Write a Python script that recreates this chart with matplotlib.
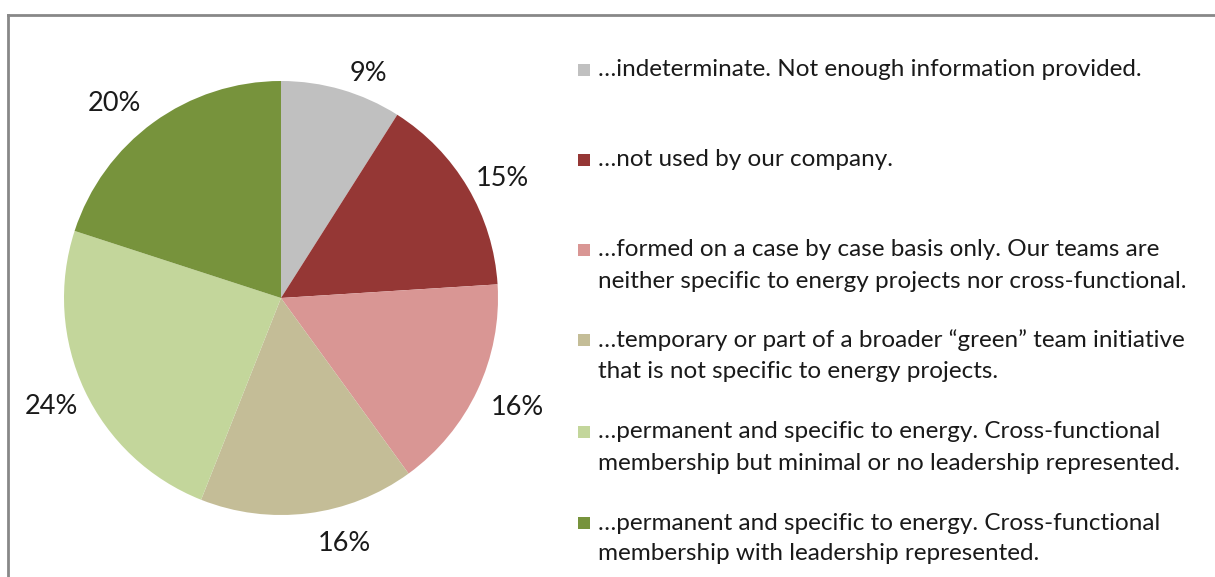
import matplotlib
matplotlib.use("Agg")
import matplotlib.pyplot as plt
from matplotlib.patches import Rectangle
from matplotlib.lines import Line2D
import numpy as np

categories = [
    "\u2026indeterminate. Not enough information provided.",
    "\u2026not used by our company.",
    "\u2026formed on a case by case basis only. Our teams are\nneither specific to energy projects nor cross-functional.",
    "\u2026temporary or part of a broader \u201cgreen\u201d team initiative\nthat is not specific to energy projects.",
    "\u2026permanent and specific to energy. Cross-functional\nmembership but minimal or no leadership represented.",
    "\u2026permanent and specific to energy. Cross-functional\nmembership with leadership represented.",
]
values = [9, 15, 16, 16, 24, 20]
pct_labels = ["9%", "15%", "16%", "16%", "24%", "20%"]
colors = ["#C0C0C0", "#953735", "#D99694", "#C4BD97", "#C3D69B", "#77933C"]

plt.rcParams['font.family'] = ['Lato', 'DejaVu Sans']

W, H = 1215, 577
fig = plt.figure(figsize=(W / 100, H / 100), dpi=100)

# pie axes: center (281,298), radius 217
cx, cy, r = 281, 298, 217
ax = fig.add_axes([(cx - r) / W, 1 - (cy + r) / H, 2 * r / W, 2 * r / H])
wedges, _ = ax.pie(values, colors=colors, startangle=90, counterclock=False,
                   radius=1.0, wedgeprops=dict(linewidth=0))
ax.set_xlim(-1, 1)
ax.set_ylim(-1, 1)
ax.set_aspect('auto')
ax.axis('off')

# percent labels outside (Excel-style "outside end" placement offsets)
angle_shift = [5.1, 2.2, -0.4, -7.2, -0.2, -4.6]   # degrees, clockwise
dists = [1.108, 1.161, 1.198, 1.166, 1.171, 1.183]
for w, lab, s, d in zip(wedges, pct_labels, angle_shift, dists):
    ang = np.deg2rad((w.theta1 + w.theta2) / 2 - s)
    ax.text(d * np.cos(ang), d * np.sin(ang), lab, ha='center', va='center',
            fontsize=19.5, color='#1a1a1a', clip_on=False)

# legend, drawn manually
first_line_y = [70, 160, 250, 340, 432, 523]
line_gap = 31
for lab, col, y in zip(categories, colors, first_line_y):
    fig.patches.append(Rectangle((578 / W, 1 - (y + 6) / H), 12 / W, 12 / H,
                                 transform=fig.transFigure, facecolor=col,
                                 edgecolor='none'))
    for i, line in enumerate(lab.split("\n")):
        fig.text(598 / W, 1 - (y + i * line_gap) / H, line, ha='left', va='center',
                 fontsize=17.5, color='#1a1a1a')

# frame (top and left)
fig.add_artist(Line2D([8 / W, 1], [1 - 15 / H, 1 - 15 / H], transform=fig.transFigure,
                      color='#888888', linewidth=2))
fig.add_artist(Line2D([8 / W, 8 / W], [0, 1 - 15 / H], transform=fig.transFigure,
                      color='#888888', linewidth=2))

fig.savefig("out.png", dpi=100)
